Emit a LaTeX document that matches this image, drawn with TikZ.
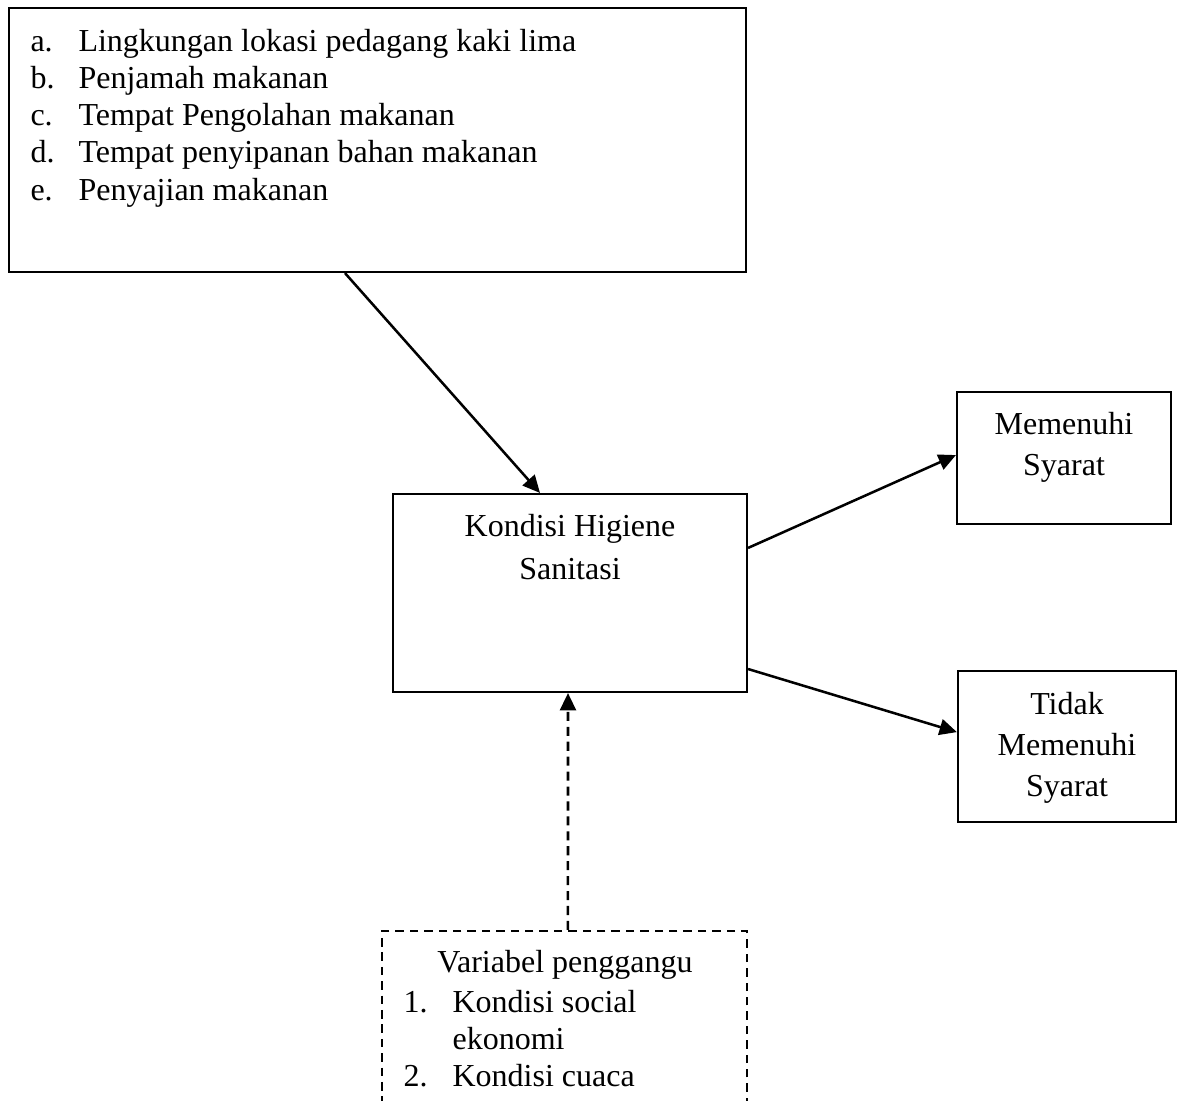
\documentclass[tikz,border=0pt]{standalone}
\usepackage{fontspec}
\setmainfont{Liberation Serif}
\usetikzlibrary{arrows.meta,positioning}

\begin{document}
\begin{tikzpicture}[
  x=0.375pt,y=-0.375pt,
  font=\fontsize{12}{13.9}\selectfont,
  box/.style={draw,line width=0.8pt,inner sep=0pt},
  dbox/.style={box,dash pattern=on 3.2pt off 2.2pt},
  txt/.style={inner sep=0pt,align=center},
  flow/.style={-{Triangle[length=6.5pt,width=6pt]},line width=0.95pt},
  dflow/.style={flow,dash pattern=on 3.4pt off 2.2pt}
]
\path[use as bounding box,clip] (0,0) rectangle (1178,1100);

\node[box,minimum width=276.4pt,minimum height=99pt] (factors) at (377.5,140) {};
\node[txt,align=left,anchor=north west] (factorList) at (30,29) {%
  \makebox[18pt][l]{a.}Lingkungan lokasi pedagang kaki lima\\
  \makebox[18pt][l]{b.}Penjamah makanan\\
  \makebox[18pt][l]{c.}Tempat Pengolahan makanan\\
  \makebox[18pt][l]{d.}Tempat penyipanan bahan makanan\\
  \makebox[18pt][l]{e.}Penyajian makanan};

\node[box,minimum width=132.75pt,minimum height=74.25pt] (hyg) at (570,593) {};
\node[txt,anchor=north,font=\fontsize{12}{16.1}\selectfont] (hygText) at (570,514) {Kondisi Higiene\\Sanitasi};

\node[box,minimum width=80.25pt,minimum height=49.5pt] (ok) at (1064,458) {};
\node[txt,anchor=north,font=\fontsize{12}{15.4}\selectfont] (okText) at (1064,412) {Memenuhi\\Syarat};

\node[box,minimum width=81.75pt,minimum height=56.6pt] (notok) at (1067,746.5) {};
\node[txt,anchor=north,font=\fontsize{12}{15.4}\selectfont] (notokText) at (1067,692) {Tidak\\Memenuhi\\Syarat};

\node[dbox,minimum width=136.9pt,minimum height=74.6pt] (conf) at (564.5,1030.5) {};
\node[txt,anchor=north] (confTitle) at (565,950) {Variabel penggangu};
\node[txt,align=left,anchor=north west] (confList) at (403,990) {%
  \makebox[18.4pt][l]{1.}Kondisi social\\
  \hspace*{18.4pt}ekonomi\\
  \makebox[18.4pt][l]{2.}Kondisi cuaca};

\draw[flow] ([xshift=-12.2pt]factors.south) -- ([xshift=-11.25pt]hyg.north);
\draw[flow] ([yshift=16.9pt]hyg.east) -- ([yshift=1.1pt]ok.west);
\draw[flow] ([yshift=-28.5pt]hyg.east) -- ([yshift=5.4pt]notok.west);
\draw[dflow] ([xshift=1.3pt]conf.north) -- ([xshift=-0.75pt]hyg.south);
\end{tikzpicture}
\end{document}
